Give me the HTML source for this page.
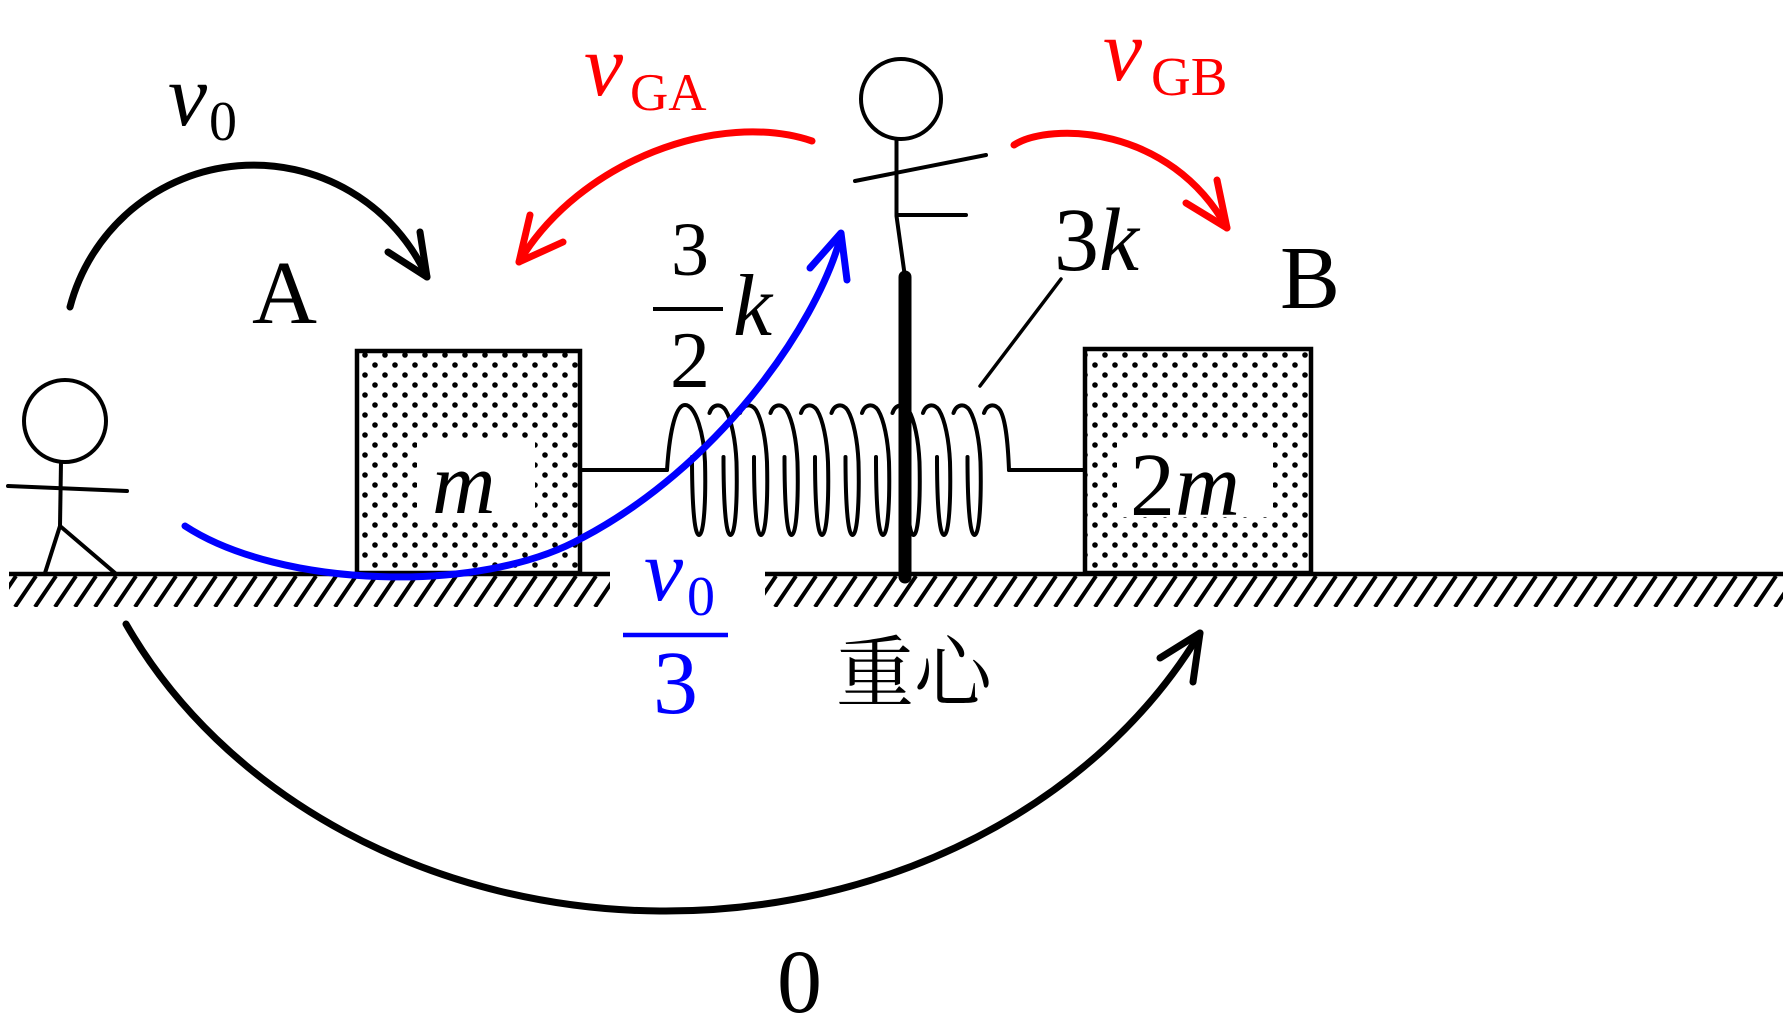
<!DOCTYPE html>
<html>
<head>
<meta charset="utf-8">
<style>
html,body{margin:0;padding:0;background:#fff;}
svg{display:block;}
text{font-family:"Liberation Serif","Noto Serif CJK SC",serif;}
.cjk{font-family:"Liberation Serif","Noto Serif CJK SC","Noto Sans CJK JP",serif;}
</style>
</head>
<body>
<svg width="1790" height="1030" viewBox="0 0 1790 1030" xmlns="http://www.w3.org/2000/svg">
<defs>
  <pattern id="hatch" patternUnits="userSpaceOnUse" x="15" y="576" width="20" height="31">
    <path d="M0,31 L21,0 M-20,31 L1,0 M20,31 L41,0" stroke="#000" stroke-width="4" fill="none"/>
  </pattern>
  <pattern id="dotsA" patternUnits="userSpaceOnUse" x="355" y="345" width="20" height="20">
    <circle cx="10" cy="10" r="2.8" fill="#000"/>
    <circle cx="0" cy="0" r="2.8" fill="#000"/>
    <circle cx="20" cy="0" r="2.8" fill="#000"/>
    <circle cx="0" cy="20" r="2.8" fill="#000"/>
    <circle cx="20" cy="20" r="2.8" fill="#000"/>
  </pattern>
  <pattern id="dotsB" patternUnits="userSpaceOnUse" x="1085" y="345" width="20" height="20">
    <circle cx="0" cy="10" r="2.8" fill="#000"/>
    <circle cx="20" cy="10" r="2.8" fill="#000"/>
    <circle cx="10" cy="0" r="2.8" fill="#000"/>
    <circle cx="10" cy="20" r="2.8" fill="#000"/>
  </pattern>
</defs>
<rect width="1790" height="1030" fill="#fff"/>

<!-- ground -->
<rect x="9" y="576" width="601" height="31" fill="url(#hatch)"/>
<rect x="765" y="576" width="1018" height="31" fill="url(#hatch)"/>
<line x1="9" y1="574" x2="610" y2="574" stroke="#000" stroke-width="4.5"/>
<line x1="765" y1="574" x2="1783" y2="574" stroke="#000" stroke-width="4.5"/>

<!-- block A -->
<rect x="357" y="351" width="223" height="222" fill="url(#dotsA)"/>
<rect x="417" y="441" width="118" height="78" fill="#fff"/>
<rect x="357" y="351" width="223" height="222" fill="none" stroke="#000" stroke-width="4.5"/>

<!-- block B -->
<rect x="1085" y="349" width="226" height="224" fill="url(#dotsB)"/>
<rect x="1117" y="442" width="156" height="75" fill="#fff"/>
<rect x="1085" y="349" width="226" height="224" fill="none" stroke="#000" stroke-width="4.5"/>

<!-- spring -->
<g fill="none" stroke="#000" stroke-width="4" stroke-linecap="round">
  <line x1="580" y1="470" x2="667" y2="470"/>
  <line x1="1009" y1="470" x2="1085" y2="470"/>
  <path d="M667,470 C669,440 674,405 685,405 C696,405 704,435 705,462 C706,500 704,535 699,535 C694,535 692,500 692,457"/>
  <path d="M709.5,413 C712.5,404 720.5,403 725.5,410 C731.5,420 735.5,440 736.5,462 C737.5,500 735.5,535 730.5,535 C725.5,535 723.5,500 723.5,457"/>
  <path d="M740,413 C743,404 751,403 756,410 C762,420 766,440 767,462 C768,500 766,535 761,535 C756,535 754,500 754,457"/>
  <path d="M770.5,413 C773.5,404 781.5,403 786.5,410 C792.5,420 796.5,440 797.5,462 C798.5,500 796.5,535 791.5,535 C786.5,535 784.5,500 784.5,457"/>
  <path d="M801,413 C804,404 812,403 817,410 C823,420 827,440 828,462 C829,500 827,535 822,535 C817,535 815,500 815,457"/>
  <path d="M831.5,413 C834.5,404 842.5,403 847.5,410 C853.5,420 857.5,440 858.5,462 C859.5,500 857.5,535 852.5,535 C847.5,535 845.5,500 845.5,457"/>
  <path d="M862,413 C865,404 873,403 878,410 C884,420 888,440 889,462 C890,500 888,535 883,535 C878,535 876,500 876,457"/>
  <path d="M892.5,413 C895.5,404 903.5,403 908.5,410 C914.5,420 918.5,440 919.5,462 C920.5,500 918.5,535 913.5,535 C908.5,535 906.5,500 906.5,457"/>
  <path d="M923,413 C926,404 934,403 939,410 C945,420 949,440 950,462 C951,500 949,535 944,535 C939,535 937,500 937,457"/>
  <path d="M953.5,413 C956.5,404 964.5,403 969.5,410 C975.5,420 979.5,440 980.5,462 C981.5,500 979.5,535 974.5,535 C969.5,535 967.5,500 967.5,457"/>
  <path d="M984,413 C987,404 995,403 1000,410 C1006,420 1008,445 1009,470"/>
</g>

<!-- pole -->
<line x1="905" y1="277" x2="905" y2="577" stroke="#000" stroke-width="13" stroke-linecap="round"/>

<!-- left stick figure -->
<g fill="none" stroke="#000" stroke-width="4" stroke-linecap="round" stroke-linejoin="round">
  <circle cx="65" cy="421" r="41"/>
  <line x1="61" y1="462" x2="60" y2="526"/>
  <line x1="8" y1="486" x2="127" y2="491"/>
  <polyline points="45,573 60,526 115,573"/>
</g>

<!-- top stick figure -->
<g fill="none" stroke="#000" stroke-width="4" stroke-linecap="round" stroke-linejoin="round">
  <circle cx="901" cy="99" r="40"/>
  <polyline points="896.5,139 896.5,216 905,277"/>
  <line x1="855" y1="181" x2="986" y2="155"/>
  <line x1="896.5" y1="215" x2="966" y2="215"/>
</g>

<!-- leader line -->
<line x1="1061" y1="279" x2="980" y2="386" stroke="#000" stroke-width="3.5" stroke-linecap="round"/>

<!-- fraction 3/2 -->
<line x1="653" y1="309" x2="723" y2="309" stroke="#000" stroke-width="4"/>

<!-- black top-left arc -->
<g fill="none" stroke="#000" stroke-width="7" stroke-linecap="round" stroke-linejoin="round">
  <path d="M70,307 A190,190 0 0 1 427,277"/>
  <polyline points="420,232 427,277 388,252"/>
</g>

<!-- black bottom arc -->
<g fill="none" stroke="#000" stroke-width="7" stroke-linecap="round" stroke-linejoin="round">
  <path d="M126,624 A600,510 0 0 0 1200,633"/>
  <polyline points="1160,658 1200,633 1193,682"/>
</g>

<!-- red arcs -->
<g fill="none" stroke="#ff0000" stroke-width="7" stroke-linecap="round" stroke-linejoin="round">
  <path d="M812,141 C720,110 580,160 519,262"/>
  <polyline points="530,215 519,262 563,242"/>
  <path d="M1014,145 C1050,122 1170,125 1227,228"/>
  <polyline points="1217,180 1227,228 1186,203"/>
</g>

<!-- blue arc -->
<g fill="none" stroke="#0000ff" stroke-width="7" stroke-linecap="round" stroke-linejoin="round">
  <path d="M185,526 C280,588 480,595 582,538 C715,468 815,330 841,236"/>
  <polyline points="810,268 841,233 847,280"/>
</g>

<!-- texts -->
<text x="168" y="125" font-size="88" font-style="italic">v</text>
<text x="209" y="140" font-size="56">0</text>
<text x="252" y="323" font-size="90">A</text>

<text x="584" y="95" font-size="88" font-style="italic" fill="#ff0000">v</text>
<text x="630" y="110" font-size="53" fill="#ff0000">GA</text>
<text x="1103" y="80" font-size="88" font-style="italic" fill="#ff0000">v</text>
<text x="1151" y="95" font-size="55" fill="#ff0000">GB</text>

<text x="690" y="275" font-size="76" text-anchor="middle">3</text>
<text x="690" y="387" font-size="80" text-anchor="middle">2</text>
<text x="733" y="335" font-size="88" font-style="italic">k</text>

<text x="1054" y="270" font-size="90">3<tspan font-style="italic">k</tspan></text>
<text x="1280" y="308" font-size="90">B</text>

<text x="432" y="513" font-size="88" font-style="italic">m</text>
<text x="1130" y="515" font-size="90">2<tspan font-style="italic">m</tspan></text>

<text x="644" y="600" font-size="88" font-style="italic" fill="#0000ff">v</text>
<text x="687" y="615" font-size="56" fill="#0000ff">0</text>
<line x1="623" y1="635" x2="728" y2="635" stroke="#0000ff" stroke-width="4.5"/>
<text x="675.5" y="713" font-size="90" text-anchor="middle" fill="#0000ff">3</text>

<text class="cjk" x="836" y="700" font-size="78">重心</text>
<text x="799.5" y="1012" font-size="90" text-anchor="middle">0</text>
</svg>
</body>
</html>
